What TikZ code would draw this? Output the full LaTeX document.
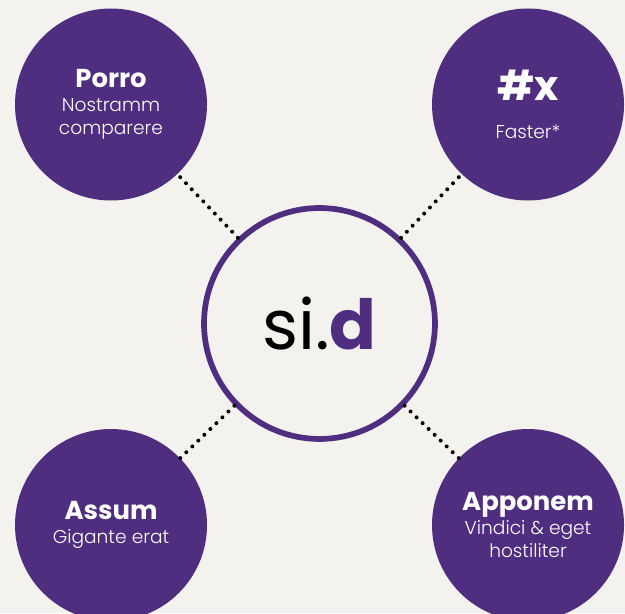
\documentclass[tikz,border=0pt]{standalone}
\usepackage{fontspec}
\setmainfont{Poppins}
\newfontfamily\lightfont{Poppins Light}
\usepackage{tikz}
\definecolor{sidpurple}{RGB}{79,45,127}
\definecolor{sidpaper}{RGB}{243,242,239}
\tikzset{
  bubble/.style={circle, fill=sidpurple, text=white, minimum size=5.08cm, inner sep=0pt, align=center, font=\lightfont\fontsize{14}{17.5}\selectfont},
  hub/.style={circle, draw=sidpurple, line width=4.3pt, minimum size=6.11cm, inner sep=0pt},
  dotline/.style={line width=3pt, line cap=round, dash pattern=on 0pt off 6.3pt}
}
\newcommand{\bubbletitle}[1]{{\normalfont\fontsize{19.5}{17.5}\selectfont\bfseries #1}}

\begin{document}
\begin{tikzpicture}
            \fill[sidpaper] (0,0) rectangle (16.536,16.219);
            \useasboundingbox (0,0) rectangle (16.536,16.219);
            \node[hub] (sid) at (8.453,7.660) {\fontsize{52}{52}\selectfont si.\textcolor{sidpurple}{\bfseries d}};
            \node[bubble] (porro) at (2.937,13.454) {\bubbletitle{Porro}\\Nostramm\\comparere};
            \node[bubble] (faster) at (13.970,13.454) {{\normalfont\fontsize{31}{17.5}\selectfont\bfseries \#x}\\[11pt]Faster*};
            \node[bubble] (assum) at (2.937,2.328) {\bubbletitle{Assum}\\Gigante erat};
            \node[bubble] (apponem) at (13.970,2.328) {\bubbletitle{Apponem}\\Vindici \& eget\\hostiliter};
            \draw[dotline] (sid) -- (porro);
            \draw[dotline] (sid) -- (faster);
            \draw[dotline] (sid) -- (assum);
            \draw[dotline] (sid) -- (apponem);
        \end{tikzpicture}
\end{document}
